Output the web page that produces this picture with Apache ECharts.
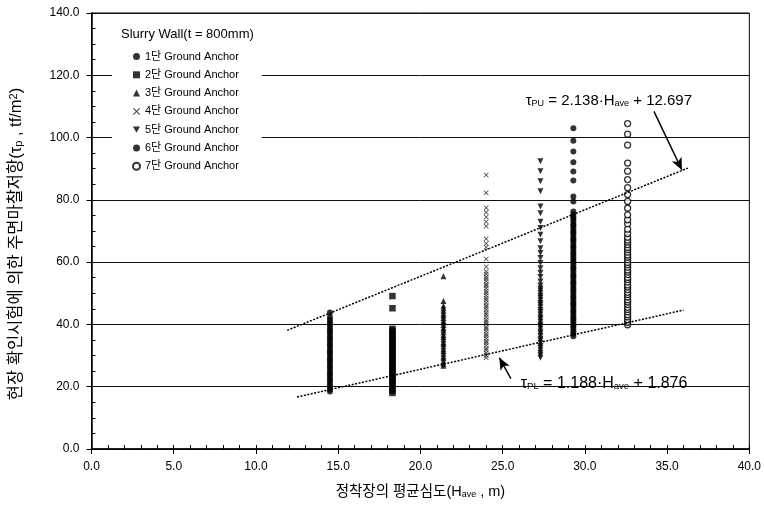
<!DOCTYPE html>
<html><head><meta charset="utf-8">
<script src="https://cdn.jsdelivr.net/npm/echarts@6/dist/echarts.min.js"></script>
<style>html,body{margin:0;padding:0;background:#fff}#c{width:764px;height:511px}</style>
</head><body><div id="c"></div>
<script>
// ---- data ----
const depths = [14.5, 18.3, 21.4, 24.0, 27.3, 29.3, 32.6];
const seriesNames = ['1단 Ground Anchor','2단 Ground Anchor','3단 Ground Anchor','4단 Ground Anchor','5단 Ground Anchor','6단 Ground Anchor','7단 Ground Anchor'];
const anchor1 = [18.5, 19.1, 20.0, 20.7, 21.6, 22.2, 23.1, 23.9, 24.5, 25.4, 26.2, 26.8, 27.7, 28.5, 29.1, 30.0, 30.8, 31.4, 32.3, 33.1, 33.7, 34.6, 35.4, 36.0, 36.9, 37.7, 38.3, 39.2, 40.0, 40.6, 41.5, 42.4, 43.8];
const anchor2 = [18.0, 18.7, 19.5, 20.4, 21.0, 21.9, 22.7, 23.3, 24.2, 25.0, 25.6, 26.5, 27.3, 27.9, 28.8, 29.6, 30.2, 31.1, 31.9, 32.5, 33.4, 34.2, 34.8, 35.7, 36.5, 37.1, 38.0, 38.6, 45.2, 49.1];
const anchor3 = [26.7, 27.4, 28.2, 29.1, 29.7, 30.6, 31.4, 32.0, 32.9, 33.7, 34.3, 35.2, 36.0, 36.6, 37.5, 38.3, 38.9, 39.8, 40.6, 41.2, 42.1, 42.9, 43.5, 44.4, 45.2, 46.0, 47.5, 55.5];
const anchor4 = [29.3, 30.0, 30.8, 31.7, 32.3, 33.2, 34.0, 34.6, 35.5, 36.3, 36.9, 37.8, 38.6, 39.2, 40.1, 40.9, 41.5, 42.4, 43.2, 43.8, 44.7, 45.5, 46.1, 47.0, 47.8, 48.4, 49.3, 50.1, 50.7, 51.6, 52.4, 53.0, 53.9, 54.7, 55.3, 56.2, 57.0, 58.5, 61.0, 64.8, 66.0, 67.5, 71.5, 73.0, 74.5, 76.0, 77.5, 82.3, 88.0];
const anchor5 = [29.3, 30.1, 30.8, 31.7, 32.5, 33.1, 34.0, 34.8, 35.4, 36.3, 37.1, 37.7, 38.6, 39.4, 40.0, 40.9, 41.7, 42.3, 43.2, 44.0, 44.6, 45.5, 46.3, 46.9, 47.8, 48.6, 49.2, 50.1, 50.9, 51.5, 52.5, 53.8, 55.2, 56.6, 58.0, 59.7, 61.3, 62.9, 64.5, 66.7, 68.8, 71.0, 73.0, 75.7, 77.9, 82.8, 86.0, 89.2, 92.4];
const anchor6 = [36.2, 37.0, 37.7, 38.6, 39.4, 40.0, 40.9, 41.7, 42.3, 43.2, 44.0, 44.6, 45.5, 46.3, 46.9, 47.8, 48.6, 49.2, 50.1, 50.9, 51.5, 52.4, 53.2, 53.8, 54.7, 55.5, 56.1, 57.0, 57.8, 58.4, 59.3, 60.1, 60.7, 61.6, 62.4, 63.0, 63.9, 64.7, 65.3, 66.2, 67.0, 67.6, 68.5, 69.3, 69.9, 70.8, 71.6, 72.2, 73.1, 73.9, 74.5, 75.4, 76.3, 79.5, 81.1, 86.2, 89.1, 92.1, 95.5, 99.0, 103.0];
const anchor7 = [39.9, 40.7, 41.5, 42.4, 43.1, 44.0, 44.8, 45.5, 46.4, 47.2, 47.9, 48.8, 49.6, 50.3, 51.2, 52.0, 52.7, 53.6, 54.4, 55.1, 56.0, 56.8, 57.5, 58.4, 59.2, 59.9, 60.8, 61.6, 62.3, 63.2, 64.0, 64.7, 65.6, 66.4, 67.1, 68.0, 69.2, 70.6, 72.3, 73.6, 75.2, 77.3, 79.5, 81.7, 83.9, 86.5, 89.2, 91.8, 97.6, 101.1, 104.5];
const anchorValues = [anchor1, anchor2, anchor3, anchor4, anchor5, anchor6, anchor7];
const upperFit = [[11.9, 38.1], [36.26, 90.2]];
const lowerFit = [[12.5, 16.7], [36.0, 44.6]];
const upperArrow = [[34.2, 108.4], [35.9, 89.6]];
const lowerArrow = [[25.5, 22.6], [24.8, 29.3]];
const upperEqPos = [26.4, 111.8];
const lowerEqPos = [26.1, 21.0];
const legendTitle = 'Slurry Wall(t = 800mm)';

// ---- styling ----
const LAT = "'Liberation Sans', Arial, sans-serif";
const KR = "'Liberation Sans', 'Noto Sans CJK KR', sans-serif";
const markers = [
  {symbol:'circle', size:6, style:{color:'#000'}},
  {symbol:'rect', size:6.5, style:{color:'#000'}},
  {symbol:'triangle', size:6, style:{color:'#000'}},
  {symbol:'path://M0,1 L1,0 L5,4 L9,0 L10,1 L6,5 L10,9 L9,10 L5,6 L1,10 L0,9 L4,5 Z', size:5, style:{color:'#000'}},
  {symbol:'path://M0,0 L10,0 L5,9 Z', size:6, style:{color:'#000'}},
  {symbol:'circle', size:6, style:{color:'#000'}},
  {symbol:'circle', size:6, style:{color:'#fff', borderColor:'#000', borderWidth:1.3}}
];

const chart = echarts.init(document.getElementById('c'), null, {renderer:'canvas'});

const scatterSeries = anchorValues.map((vals, i) => ({
  name: seriesNames[i],
  type: 'scatter',
  xAxisIndex: 0, yAxisIndex: 0,
  symbol: markers[i].symbol,
  symbolSize: markers[i].size,
  itemStyle: markers[i].style,
  data: vals.map(v => [depths[i], v]),
  emphasis: {disabled: true},
  z: 3
}));

const fitStyle = {color:'#000', width:1.5, type:[2,1.5]};
const arrowMark = (pts) => ({
  silent: true,
  symbol: ['none','arrow'],
  symbolSize: [8, 12],
  label: {show:false},
  lineStyle: {color:'#000', width:1.5, type:'solid'},
  data: [[{coord: pts[0]}, {coord: pts[1]}]]
});

const option = {
  animation: false,
  backgroundColor: '#fff',
  grid: {left: 89, right: 12, top: 13, bottom: 62, show: true, borderColor: '#000', borderWidth: 1, backgroundColor: 'transparent'},
  legend: {
    orient: 'vertical', left: 112, top: 22,
    padding: [28, 23, 9, 20],
    backgroundColor: '#fff',
    itemWidth: 7, itemHeight: 7, itemGap: 5.3,
    textStyle: {fontSize: 11, fontFamily: KR, color: '#000', lineHeight: 13},
    data: seriesNames, selectedMode: false, z: 5
  },
  xAxis: [{
    type: 'value', min: 0, max: 40, interval: 5,
    axisLine: {show: true, onZero: false, lineStyle: {color: '#000', width: 1.5}},
    axisTick: {show: true, length: 5, lineStyle: {color: '#000', width: 1}},
    axisLabel: {formatter: v => v.toFixed(1), fontSize: 12, fontFamily: LAT, color: '#000', margin: 12},
    splitLine: {show: false},
    name: '정착장의 평균심도(H{s|ave} , m)', nameLocation: 'middle', nameGap: 36,
    nameTextStyle: {fontSize: 14.5, fontFamily: KR, color: '#000', rich: {s: {fontSize: 9, fontFamily: LAT, verticalAlign: 'bottom', lineHeight: 9}}}
  }, {
    type: 'value', min: 0, max: 40, interval: 1, position: 'bottom',
    axisLine: {show: false}, axisLabel: {show: false}, splitLine: {show: false},
    axisTick: {show: true, inside: true, length: 4, lineStyle: {color: '#000', width: 1}}
  }],
  yAxis: [{
    type: 'value', min: 0, max: 140, interval: 20,
    axisLine: {show: true, onZero: false, lineStyle: {color: '#000', width: 1.5}},
    axisTick: {show: true, length: 5, lineStyle: {color: '#000', width: 1}},
    axisLabel: {formatter: v => v.toFixed(1), fontSize: 12, fontFamily: LAT, color: '#000', margin: 12},
    splitLine: {show: true, lineStyle: {color: '#111', width: 1}},
    name: '현장 확인시험에 의한 주면마찰저항(τ{s|p} , tf/m{p|2})', nameLocation: 'middle', nameGap: 67,
    nameTextStyle: {fontSize: 16.5, fontFamily: KR, color: '#000', padding: [0, 26, 0, 0],
      rich: {s: {fontSize: 11, fontFamily: LAT, verticalAlign: 'bottom', lineHeight: 11}, p: {fontSize: 11, fontFamily: LAT, verticalAlign: 'top', lineHeight: 11}}}
  }, {
    type: 'value', min: 0, max: 140, interval: 5, position: 'left',
    axisLine: {show: false}, axisLabel: {show: false}, splitLine: {show: false},
    axisTick: {show: true, inside: true, length: 4, lineStyle: {color: '#000', width: 1}}
  }],
  series: scatterSeries.concat([
    {type: 'line', xAxisIndex: 0, yAxisIndex: 0, data: upperFit, symbol: 'none', lineStyle: fitStyle, silent: true, z: 4, markLine: arrowMark(upperArrow)},
    {type: 'line', xAxisIndex: 0, yAxisIndex: 0, data: lowerFit, symbol: 'none', lineStyle: fitStyle, silent: true, z: 4, markLine: arrowMark(lowerArrow)}
  ])
};
chart.setOption(option);

const eqRich = {
  t: {fontSize: 15, fontFamily: LAT, color: '#000', lineHeight: 15},
  s: {fontSize: 9, fontFamily: LAT, color: '#000', verticalAlign: 'bottom', lineHeight: 9}
};
const eqRichL = {
  t: {fontSize: 16, fontFamily: LAT, color: '#000', lineHeight: 15},
  s: {fontSize: 9.5, fontFamily: LAT, color: '#000', verticalAlign: 'bottom', lineHeight: 9}
};
const pU = chart.convertToPixel({seriesIndex: 0}, upperEqPos);
const pL = chart.convertToPixel({seriesIndex: 0}, lowerEqPos);
const legendLeft = 112;
chart.setOption({
  graphic: [
    {type: 'text', left: legendLeft + 9, top: 28, z: 10,
     style: {text: legendTitle, font: "13px " + LAT, fill: '#000'}},
    {type: 'text', x: pU[0], y: pU[1], z: 10,
     style: {text: '{t|τ}{s|PU}{t| = 2.138·H}{s|ave}{t| + 12.697}', rich: eqRich, verticalAlign: 'middle', align: 'left'}},
    {type: 'text', x: pL[0], y: pL[1], z: 10,
     style: {text: '{t|τ}{s|PL}{t| = 1.188·H}{s|ave}{t| + 1.876}', rich: eqRichL, verticalAlign: 'middle', align: 'left'}}
  ]
});
</script>
</body></html>
